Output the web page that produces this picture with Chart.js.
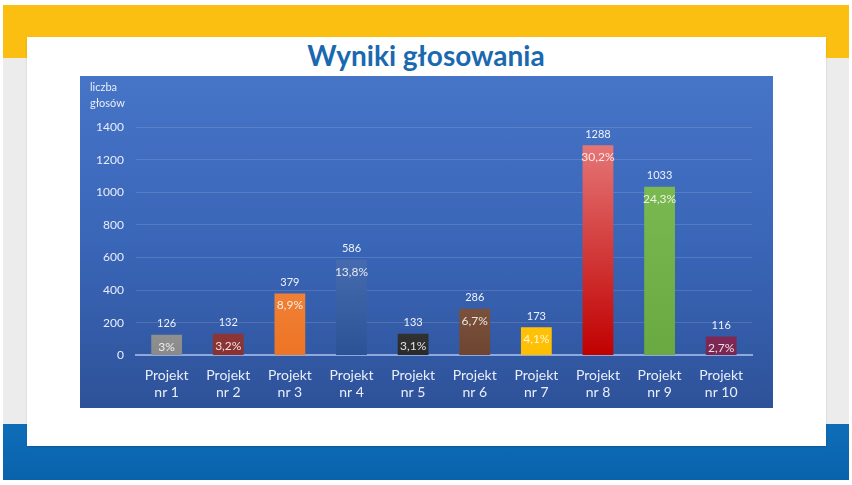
<!DOCTYPE html>
<html>
<head>
<meta charset="utf-8">
<script src="https://cdn.jsdelivr.net/npm/chart.js@4"></script>
<style>
  html, body { margin: 0; padding: 0; background: #ffffff; }
  body { width: 852px; height: 485px; position: relative; overflow: hidden; font-family: Lato, "Open Sans", sans-serif; }
  .pas-zolty { position: absolute; left: 3px; top: 5px; width: 846px; height: 53px; background: #fbbf12; }
  .pas-szary { position: absolute; left: 3px; top: 58px; width: 846px; height: 366px; background: #ececec; }
  .pas-niebieski { position: absolute; left: 3px; top: 424px; width: 846px; height: 56px; background: linear-gradient(#0f6db8, #0a62ac); }
  .karta { position: absolute; left: 27px; top: 37px; width: 799px; height: 409px; background: #ffffff; box-shadow: 0 1px 2px rgba(0,0,0,0.15); }
  .tytul { position: absolute; left: 0; top: 38px; width: 852px; text-align: center; color: #1a68b0; font-size: 28px; font-weight: bold; }
  .panel { position: absolute; left: 80px; top: 76px; width: 693px; height: 332px; background: linear-gradient(#4674c6, #3a66b8 50%, #2e5299); }
  .os-y { position: absolute; left: 90px; top: 79px; color: #e8eefa; font-size: 11px; line-height: 16px; }
</style>
</head>
<body>
<div class="pas-zolty"></div>
<div class="pas-szary"></div>
<div class="pas-niebieski"></div>
<div class="karta"></div>
<div class="tytul">Wyniki głosowania</div>
<div class="panel"><canvas id="wykres" width="693" height="332"></canvas></div>
<div class="os-y">liczba<br>głosów</div>
<script>
// Dane
const projekty = [
  ['Projekt', 'nr 1'], ['Projekt', 'nr 2'], ['Projekt', 'nr 3'], ['Projekt', 'nr 4'], ['Projekt', 'nr 5'],
  ['Projekt', 'nr 6'], ['Projekt', 'nr 7'], ['Projekt', 'nr 8'], ['Projekt', 'nr 9'], ['Projekt', 'nr 10']
];
const glosy = [126, 132, 379, 586, 133, 286, 173, 1288, 1033, 116];
const procenty = ['3%', '3,2%', '8,9%', '13,8%', '3,1%', '6,7%', '4,1%', '30,2%', '24,3%', '2,7%'];

// kolory słupków: góra / dół gradientu
const koloryGora = ['#c8c8c8', '#b06a6a', '#f7a060', '#6a8fd2', '#777777', '#a88068', '#ffd040', '#e88080', '#7fbf55', '#b0507f'];
const koloryDol = ['#8a8a8a', '#8a3030', '#ed7425', '#2c5296', '#2a2a2a', '#6e4530', '#ffbf00', '#c00000', '#6aa842', '#7a2550'];

// etykiety nad i w słupkach
const etykiety = {
  id: 'etykiety',
  afterDatasetsDraw(chart) {
    const ctx = chart.ctx;
    const meta = chart.getDatasetMeta(0);
    ctx.save();
    ctx.textAlign = 'center';
    ctx.textBaseline = 'middle';
    meta.data.forEach((bar, i) => {
      ctx.fillStyle = '#eef2fb';
      ctx.font = '11px Lato, sans-serif';
      ctx.fillText(glosy[i], bar.x, bar.y - 11);
      ctx.fillStyle = 'rgba(255,255,255,0.85)';
      ctx.font = '12px Lato, sans-serif';
      ctx.fillText(procenty[i], bar.x, bar.y + 12);
    });
    ctx.restore();
  }
};

new Chart(document.getElementById('wykres'), {
  type: 'bar',
  data: {
    labels: projekty,
    datasets: [{
      data: glosy,
      backgroundColor: (c) => {
        const area = c.chart.chartArea;
        if (!area) return koloryDol[c.dataIndex];
        const bar = c.chart.getDatasetMeta(0).data[c.dataIndex];
        const top = bar && isFinite(bar.y) ? bar.y : area.top;
        const g = c.chart.ctx.createLinearGradient(0, top, 0, area.bottom);
        g.addColorStop(0, koloryGora[c.dataIndex]);
        g.addColorStop(1, koloryDol[c.dataIndex]);
        return g;
      },
      borderWidth: 0,
      categoryPercentage: 1,
      barPercentage: 0.5
    }]
  },
  options: {
    responsive: false,
    animation: false,
    layout: { padding: { top: 51, right: 21, left: 4, bottom: -5 } },
    plugins: { legend: { display: false }, tooltip: { enabled: false } },
    scales: {
      x: {
        grid: { display: false, drawTicks: false },
        border: { color: '#8fa9dc', width: 2 },
        ticks: { color: '#e8eefa', font: { family: 'Lato', size: 14 }, padding: 12, maxRotation: 0 }
      },
      y: {
        min: 0, max: 1400,
        ticks: { stepSize: 200, color: '#e8eefa', font: { family: 'Lato', size: 12 }, padding: 12, callback: (v) => String(v) },
        grid: { color: 'rgba(255,255,255,0.13)', drawTicks: false },
        border: { display: false }
      }
    }
  },
  plugins: [etykiety]
});
</script>
</body>
</html>
